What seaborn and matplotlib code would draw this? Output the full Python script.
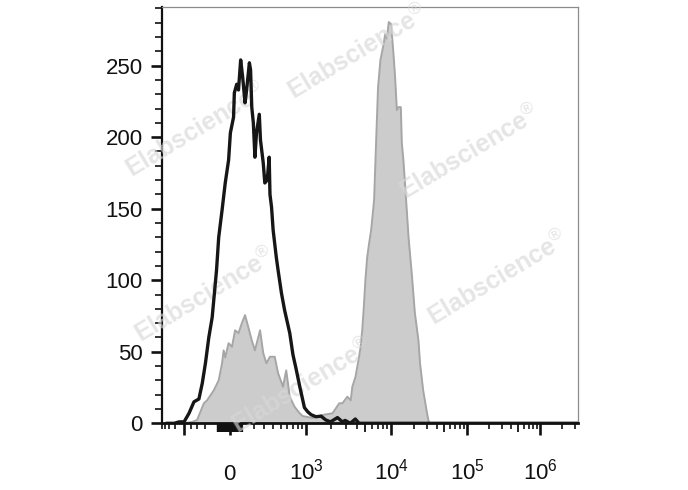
import numpy as np
import pandas as pd
import matplotlib
matplotlib.use("Agg")
import matplotlib.pyplot as plt
import seaborn as sns

# ---------------- data (display channel 0-1040, event counts) ----------------
ctrl_channel = [0, 20, 32.5, 45, 57.5, 70, 82.5, 91, 99, 107.5, 116, 120, 127, 132.5,
                141, 149, 157.5, 162, 170, 172, 178, 182.5, 188, 193, 199, 203, 210,
                213, 216, 220, 224, 228, 235, 238, 245, 249, 255, 260, 262, 266, 270,
                278, 282.5, 291, 299, 312, 320, 328, 337, 345, 349, 357.5, 366, 378,
                391, 403, 415, 432.5, 445, 452, 465, 477.5, 487, 1040]
ctrl_count = [0, 0, 1, 1, 7, 15, 17, 28, 42, 60, 74, 86, 107, 130,
              149, 168, 184, 203, 214, 231, 237, 233, 254, 242, 224, 233, 252,
              247, 221, 210, 186, 203, 216, 198, 182, 168, 170, 186, 160, 151, 135,
              116, 107, 91, 79, 63, 48, 38, 26, 16, 11, 8, 6, 4.6,
              5, 2.3, 1, 4, 1, 2, 0, 3, 0, 0]

stain_channel = [0, 45, 66, 78, 95, 103, 120, 132.5, 141, 145, 149, 157.5, 166, 174,
                 182.5, 191, 199, 207.5, 216, 224, 237, 245, 253, 262, 274, 282.5,
                 295, 303, 312, 324, 337, 345, 353, 370, 395, 420, 437, 445, 457.5,
                 466, 470, 478, 487, 491, 495, 499, 503, 507.5, 512.5, 517.5, 525,
                 530, 535, 541, 549, 553, 557.5, 562, 568, 574, 578, 582.5, 587,
                 592.5, 595, 599, 603, 607.5, 612, 620, 628, 637, 641, 649, 657.5,
                 662, 665, 1040]
stain_count = [0, 0, 1, 2.3, 14, 16, 23, 30, 42, 51, 46, 56, 53.5, 65,
               63, 70, 75.6, 67, 58, 51, 65, 49, 42, 46.5, 46.5, 35,
               25.6, 37, 18.6, 11.6, 7, 5, 4.6, 3.7, 5.8, 7, 14, 14, 18.6,
               16, 25.6, 32.5, 46.5, 53.5, 65, 81, 100, 116, 126, 135, 156,
               196, 235, 254, 265, 272, 269, 280.5, 279, 258, 242, 219, 221,
               221, 196, 184, 168, 149, 130, 105, 77, 58, 42, 23, 9,
               2.3, 0, 0]

# biexponential display: fluorescence anchor values -> display channel
scale_values = [-1e4, -1000, -100, 0, 100, 1000, 1e4, 1e5, 1e6, 1e7]
scale_channels = [-35, 45, 128, 160, 192, 353, 568, 760, 945, 1130]

major_values = [-1000, 0, 1000, 1e4, 1e5, 1e6]
major_labels = ["", "0", r"$\mathregular{10^{3}}$", r"$\mathregular{10^{4}}$",
                r"$\mathregular{10^{5}}$", r"$\mathregular{10^{6}}$"]
near_zero_values = [-95, -90, -85, -80, -75, -70, -65, -60, -55, -50, -45, -40, -35,
                    -30, -25, -20, -15, -10, -5, 5, 10, 15, 20, 25, 30, 35, 40, 45,
                    50, 55, 60, 65, 70, 75, 80, 85, 90, 95]
medium_values = [5000, 5e4, 5e5]
minor_values = [-5000, -4000, -3000, -2000, -700, -500, -300,
                200, 300, 400, 500, 600, 700, 800, 900,
                2000, 3000, 4000, 6000, 7000, 8000, 9000,
                2e4, 3e4, 4e4, 6e4, 7e4, 8e4, 9e4,
                2e5, 3e5, 4e5, 6e5, 7e5, 8e5, 9e5,
                2e6, 3e6]

y_major = [0, 50, 100, 150, 200, 250]
y_minor = [10, 20, 30, 40, 60, 70, 80, 90, 110, 120, 130, 140, 160, 170, 180, 190,
           210, 220, 230, 240, 260, 270, 280, 290]

watermark_text = r"Elabscience$^{\circledR}$"
watermark_xy = [(0.471, 0.892), (0.082, 0.704), (0.740, 0.652),
                (0.103, 0.308), (0.808, 0.349), (0.337, 0.090)]


def to_channel(v):
    w = 300.0
    return np.interp(np.arcsinh(np.asarray(v, dtype=float) / w),
                     np.arcsinh(np.asarray(scale_values) / w), scale_channels)


# ---------------- styling ----------------
sns.set_style("ticks")
plt.rcParams["font.family"] = ["Liberation Sans", "DejaVu Sans"]
plt.rcParams["mathtext.fontset"] = "custom"
plt.rcParams["mathtext.rm"] = "Liberation Sans"

fig = plt.figure(figsize=(6.88, 4.90), dpi=100)
ax = fig.add_axes([162 / 688, (490 - 423.3) / 490, 416 / 688, 416.3 / 490])

ctrl = pd.DataFrame({"channel": ctrl_channel, "count": ctrl_count})
stain = pd.DataFrame({"channel": stain_channel, "count": stain_count})

ax.fill_between(stain["channel"], stain["count"], 0, color="#cccccc", lw=0, zorder=1)
sns.lineplot(data=stain, x="channel", y="count", ax=ax, color="#a6a6a6", lw=1.4,
             estimator=None, zorder=2)

for (wx, wy) in watermark_xy:
    ax.text(wx, wy, watermark_text, transform=ax.transAxes, rotation=31,
            ha="center", va="center", fontsize=18, fontweight="bold",
            color="#d8d8d8", alpha=0.65, zorder=3, rotation_mode="anchor")

sns.lineplot(data=ctrl, x="channel", y="count", ax=ax, color="#161616", lw=2.4,
             estimator=None, zorder=4)

ax.set_xlim(0, 1040)
ax.set_ylim(0, 291)
ax.set_xlabel("")
ax.set_ylabel("")

ax.set_xticks(to_channel(major_values))
ax.set_xticklabels(major_labels)
ax.set_xticks(to_channel(minor_values), minor=True)
ax.set_yticks(y_major)
ax.set_yticks(y_minor, minor=True)

ax.tick_params(axis="y", which="major", length=7.9, width=1.9, labelsize=16,
               pad=6, color="#111111", labelcolor="#111111")
ax.tick_params(axis="y", which="minor", length=5, width=1.2, color="#111111")
ax.tick_params(axis="x", which="major", length=8.6, width=1.9, labelsize=16,
               pad=32, color="#111111", labelcolor="#111111")
ax.tick_params(axis="x", which="minor", length=4.3, width=1.2, color="#111111")

sec = ax.secondary_xaxis("bottom")
sec.set_xticks(to_channel(medium_values))
sec.tick_params(axis="x", which="major", length=6.4, width=1.3, color="#111111",
                labelbottom=False)
sec.tick_params(axis="x", which="minor", length=0)
for s in sec.spines.values():
    s.set_visible(False)

sec0 = ax.secondary_xaxis("bottom")
sec0.set_xticks(to_channel(near_zero_values))
sec0.tick_params(axis="x", which="major", length=6.8, width=1.6, color="#111111",
                 labelbottom=False)
sec0.tick_params(axis="x", which="minor", length=0)
for s in sec0.spines.values():
    s.set_visible(False)

for lab in ax.get_xticklabels():
    lab.set_verticalalignment("baseline")

ax.spines["left"].set_color("#111111")
ax.spines["left"].set_linewidth(1.6)
ax.spines["bottom"].set_color("#111111")
ax.spines["bottom"].set_linewidth(2.0)
ax.spines["top"].set_color("#8c8c8c")
ax.spines["top"].set_linewidth(0.9)
ax.spines["right"].set_color("#8c8c8c")
ax.spines["right"].set_linewidth(0.9)

fig.savefig("out.png", dpi=100)
